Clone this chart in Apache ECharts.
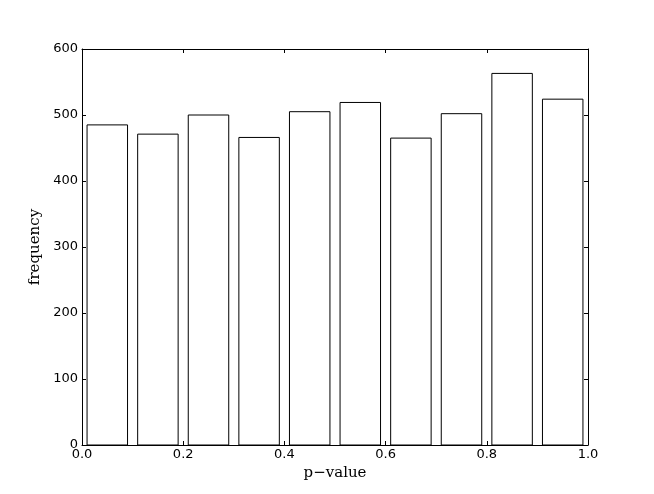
<!DOCTYPE html>
<html>
<head>
<meta charset="utf-8">
<script src="https://cdn.jsdelivr.net/npm/echarts@6/dist/echarts.min.js"></script>
<style>html,body{margin:0;padding:0;background:#fff;}#c{width:654px;height:494px;}</style>
</head>
<body>
<div id="c"></div>
<script>
const binStarts = [0.0, 0.1, 0.2, 0.3, 0.4, 0.5, 0.6, 0.7, 0.8, 0.9];
const binWidth = 0.1;
const counts = [485, 471, 500, 466, 505, 519, 465, 502, 563, 524];
const xTicks = [0, 0.2, 0.4, 0.6, 0.8, 1.0];
const yTicks = [0, 100, 200, 300, 400, 500, 600];
const rwidth = 0.8;

const data = binStarts.map((s, i) => {
  const pad = binWidth * (1 - rwidth) / 2;
  return [s + pad, s + binWidth - pad, counts[i]];
});

const chart = echarts.init(document.getElementById('c'), null, {renderer: 'canvas'});
const tickFont = {fontFamily: 'DejaVu Sans', fontSize: 13, color: '#000'};
const nameFont = {fontFamily: 'DejaVu Serif', fontSize: 15, color: '#000'};
const axisCommon = {
  axisLine: {show: true, onZero: false, lineStyle: {color: '#000', width: 1}},
  axisTick: {show: true, inside: true, length: 4, lineStyle: {color: '#000', width: 1}},
  splitLine: {show: false}
};
chart.setOption({
  animation: false,
  backgroundColor: '#fff',
  grid: {left: 82, right: 66, top: 49, bottom: 49, containLabel: false},
  xAxis: [
    Object.assign({
      type: 'value', min: 0, max: 1, interval: 0.2, position: 'bottom',
      name: 'p\u2212value', nameLocation: 'middle', nameGap: 19, nameTextStyle: nameFont,
      axisLabel: Object.assign({margin: 3, formatter: v => v.toFixed(1)}, tickFont)
    }, axisCommon),
    Object.assign({
      type: 'value', min: 0, max: 1, interval: 0.2, position: 'top',
      axisLabel: {show: false}
    }, axisCommon)
  ],
  yAxis: [
    Object.assign({
      type: 'value', min: 0, max: 600, interval: 100, position: 'left',
      name: 'frequency', nameLocation: 'middle', nameGap: 38, nameTextStyle: nameFont,
      axisLabel: Object.assign({margin: 4}, tickFont)
    }, axisCommon),
    Object.assign({
      type: 'value', min: 0, max: 600, interval: 100, position: 'right',
      axisLabel: {show: false}
    }, axisCommon)
  ],
  series: [{
    type: 'custom',
    xAxisIndex: 0, yAxisIndex: 0,
    data: data,
    encode: {x: [0, 1], y: 2},
    renderItem: function (params, api) {
      const p0 = api.coord([api.value(0), api.value(2)]);
      const p1 = api.coord([api.value(1), 0]);
      return {
        type: 'rect',
        shape: {x: p0[0], y: p0[1], width: p1[0] - p0[0], height: p1[1] - p0[1]},
        style: {fill: '#fff', stroke: '#000', lineWidth: 1}
      };
    }
  }]
});
</script>
</body>
</html>
